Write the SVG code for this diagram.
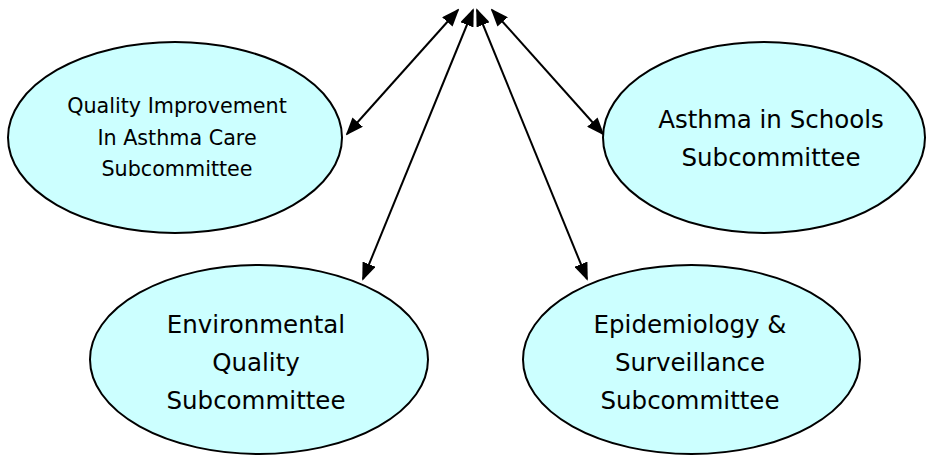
<svg xmlns="http://www.w3.org/2000/svg" width="928" height="456" viewBox="0 0 928 456">
<style>
.node ellipse{fill:#CCFFFF;stroke:#000;stroke-width:2}
.node text{font-family:"DejaVu Sans","Liberation Sans",sans-serif;fill:#000;text-anchor:middle}
.sm{font-size:20.7px}
.lg{font-size:24.5px}
.edge{stroke:#000;stroke-width:2;fill:none;marker-start:url(#ah);marker-end:url(#ah)}
</style>
<defs>
<marker id="ah" markerUnits="userSpaceOnUse" markerWidth="18" markerHeight="14" refX="16" refY="7" orient="auto-start-reverse">
<path d="M0,0 L18,7 L0,14 z" fill="#000"/>
</marker>
</defs>
<rect width="928" height="456" fill="#fff"/>
<g id="n-quality" class="node">
<ellipse cx="175" cy="137.5" rx="167" ry="95.5"/>
<text class="sm" x="177" y="113">Quality Improvement</text>
<text class="sm" x="177" y="145">In Asthma Care</text>
<text class="sm" x="177" y="176">Subcommittee</text>
</g>
<g id="n-schools" class="node">
<ellipse cx="764" cy="137.5" rx="161" ry="95.5"/>
<text class="lg" x="771" y="128">Asthma in Schools</text>
<text class="lg" x="771" y="166">Subcommittee</text>
</g>
<g id="n-environmental" class="node">
<ellipse cx="259" cy="359.5" rx="169" ry="94.5"/>
<text class="lg" x="256" y="333">Environmental</text>
<text class="lg" x="256" y="371">Quality</text>
<text class="lg" x="256" y="409">Subcommittee</text>
</g>
<g id="n-epidemiology" class="node">
<ellipse cx="691.5" cy="359.5" rx="168.5" ry="94.5"/>
<text class="lg" x="690" y="333">Epidemiology &amp;</text>
<text class="lg" x="690" y="371">Surveillance</text>
<text class="lg" x="690" y="409">Subcommittee</text>
</g>
<g id="connectors">
<line class="edge" x1="458" y1="10" x2="347" y2="134"/>
<line class="edge" x1="473" y1="10" x2="363" y2="279"/>
<line class="edge" x1="477" y1="10" x2="587" y2="279"/>
<line class="edge" x1="492" y1="10" x2="603" y2="134"/>
</g>
</svg>
